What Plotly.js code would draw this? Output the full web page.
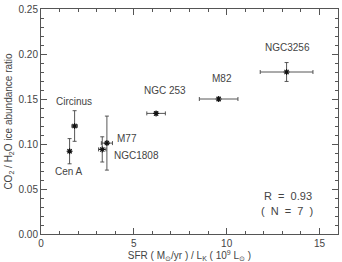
<!DOCTYPE html>
<html><head><meta charset="utf-8">
<script src="https://cdn.plot.ly/plotly-3.0.1.min.js"></script>
<style>html,body{margin:0;padding:0;background:#fff}#plot{width:342px;height:262px}</style>
</head><body><div id="plot"></div>
<script>
const galaxies = ["Cen A","Circinus","NGC1808","M77","NGC 253","M82","NGC3256"];
const sfr      = [1.54, 1.81, 3.30, 3.55, 6.20, 9.57, 13.23];
const sfrErr   = [0.08, 0.14, 0.20, 0.30, 0.50, 1.04, 1.42];
const ratio    = [0.092, 0.120, 0.094, 0.101, 0.134, 0.150, 0.180];
const ratioErr = [0.014, 0.017, 0.014, 0.030, 0.002, 0.002, 0.0105];
const labelX   = [1.49, 1.76, 3.82, 3.96, 6.70, 9.75, 13.30];
const labelY   = [0.070, 0.1476, 0.087, 0.106, 0.160, 0.1733, 0.207];
const labelAnchor = ["center","center","left","left","center","center","center"];
const statsText = ["R&nbsp;&nbsp;=&nbsp;&nbsp;0.93","(&nbsp;&nbsp;N&nbsp;&nbsp;=&nbsp;&nbsp;7&nbsp;&nbsp;)"];
const statsX = [13.30, 13.26];
const statsY = [0.0426, 0.0259];

const txtColor = "#444";
const fontFam = "Liberation Sans, Arial, sans-serif";

const trace = {
  x: sfr, y: ratio, type: "scatter", mode: "markers",
  marker: {symbol: "asterisk-open", size: 5, color: "#111", line: {width: 1.1, color: "#111"}},
  error_x: {type: "data", array: sfrErr, visible: true, color: "#444", thickness: 0.9, width: 2},
  error_y: {type: "data", array: ratioErr, visible: true, color: "#444", thickness: 0.9, width: 2},
  hoverinfo: "skip"
};

const annotations = galaxies.map((g, i) => ({
  x: labelX[i], y: labelY[i], xref: "x", yref: "y", text: g, showarrow: false,
  xanchor: labelAnchor[i], yanchor: "middle",
  font: {family: fontFam, size: 10, color: txtColor}
})).concat(statsText.map((t, i) => ({
  x: statsX[i], y: statsY[i], xref: "x", yref: "y", text: t, showarrow: false,
  xanchor: "center", yanchor: "middle",
  font: {family: fontFam, size: 11, color: txtColor}
})));

const layout = {
  width: 342, height: 262,
  margin: {l: 41, r: 4, t: 9, b: 28},
  paper_bgcolor: "#fff", plot_bgcolor: "#fff",
  showlegend: false,
  font: {family: fontFam, size: 10, color: txtColor},
  xaxis: {
    range: [0, 16], tickvals: [0, 5, 10, 15], ticktext: ["0","5","10","15"],
    ticks: "inside", ticklen: 6, tickcolor: "#555", tickwidth: 1,
    minor: {dtick: 1, tick0: 0, ticks: "inside", ticklen: 3, tickcolor: "#555"},
    showline: true, linecolor: "#555", linewidth: 1, mirror: "ticks",
    showgrid: false, zeroline: false,
    tickfont: {family: fontFam, size: 10, color: txtColor},
    title: {text: "SFR ( M<sub>⊙</sub>/yr ) / L<sub>K</sub> ( 10<sup>9</sup> L<sub>⊙</sub> )",
            font: {family: fontFam, size: 10, color: txtColor}, standoff: 2}
  },
  yaxis: {
    range: [0, 0.25], tickvals: [0, 0.05, 0.10, 0.15, 0.20, 0.25],
    ticktext: ["0.00","0.05","0.10","0.15","0.20","0.25"],
    ticks: "inside", ticklen: 6, tickcolor: "#555", tickwidth: 1,
    minor: {dtick: 0.01, tick0: 0, ticks: "inside", ticklen: 3, tickcolor: "#555"},
    showline: true, linecolor: "#555", linewidth: 1, mirror: "ticks",
    showgrid: false, zeroline: false,
    tickfont: {family: fontFam, size: 10, color: txtColor},
    title: {text: "CO<sub>2</sub> / H<sub>2</sub>O ice abundance ratio",
            font: {family: fontFam, size: 10, color: txtColor}, standoff: 4}
  },
  annotations: annotations
};

Plotly.newPlot("plot", [trace], layout, {staticPlot: true, displayModeBar: false});
</script></body></html>
